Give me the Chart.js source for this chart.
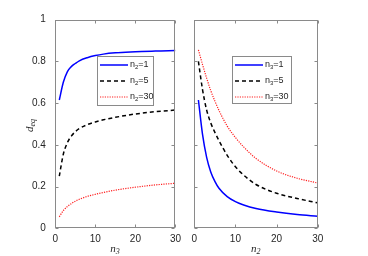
<!DOCTYPE html>
<html>
<head>
<meta charset="utf-8">
<script src="https://cdn.jsdelivr.net/npm/chart.js@4/dist/chart.umd.min.js"></script>
<style>
  html, body { margin: 0; padding: 0; background: #fff; }
  #wrap { position: relative; width: 368px; height: 256px; overflow: hidden; }
  canvas { position: absolute; top: 0; }
</style>
</head>
<body>
<div id="wrap">
  <canvas id="leftChart" width="186" height="256" style="left:0"></canvas>
  <canvas id="rightChart" width="182" height="256" style="left:186px"></canvas>
</div>
<script>
// sample positions along x (n3 on the left panel, n2 on the right panel)
const xVals = [1, 2, 3, 4, 5, 6, 8, 10, 12, 15, 20, 25, 30];

// left panel: d_eq versus n3
const leftN2_1  = [0.615, 0.700, 0.750, 0.775, 0.790, 0.803, 0.818, 0.828, 0.835, 0.841, 0.846, 0.850, 0.852];
const leftN2_5  = [0.250, 0.355, 0.410, 0.442, 0.463, 0.478, 0.497, 0.510, 0.520, 0.532, 0.548, 0.559, 0.567];
const leftN2_30 = [0.055, 0.085, 0.104, 0.118, 0.130, 0.139, 0.153, 0.163, 0.172, 0.183, 0.197, 0.208, 0.216];

// right panel: d_eq versus n2
const rightN3_1  = [0.615, 0.450, 0.340, 0.270, 0.225, 0.192, 0.152, 0.128, 0.112, 0.095, 0.078, 0.066, 0.058];
const rightN3_5  = [0.800, 0.665, 0.567, 0.505, 0.460, 0.420, 0.350, 0.295, 0.255, 0.210, 0.168, 0.143, 0.122];
const rightN3_30 = [0.855, 0.785, 0.720, 0.660, 0.610, 0.565, 0.490, 0.435, 0.390, 0.335, 0.275, 0.240, 0.217];

const xTicks = [0, 10, 20, 30];
const yTicks = [0, 0.2, 0.4, 0.6, 0.8, 1];

const leftLabels  = ['n_{2}=1', 'n_{2}=5', 'n_{2}=30'];
const rightLabels = ['n_{3}=1', 'n_{3}=5', 'n_{3}=30'];

const styles = [
    { borderColor: '#0000ff', borderWidth: 1.5, borderDash: [] },
    { borderColor: '#000000', borderWidth: 1.5, borderDash: [4, 3] },
    { borderColor: '#ff2020', borderWidth: 1.2, borderDash: [1.2, 1.2] }
];

const axisColor = '#8a8a8a';
const textColor = '#262626';

function makeSets(series, labels) {
    return series.map((ys, i) => ({
        label: labels[i],
        data: xVals.map((x, j) => ({ x: x, y: ys[j] })),
        borderColor: styles[i].borderColor,
        borderWidth: styles[i].borderWidth,
        borderDash: styles[i].borderDash,
        pointRadius: 0,
        fill: false,
        cubicInterpolationMode: 'monotone'
    }));
}

// draws "n_{2}=1" style text with a subscript
function subText(ctx, str, x, y, size, family, italic) {
    const m = str.match(/^([^_]*)_\{([^}]*)\}(.*)$/) || [null, str, '', ''];
    const it = italic ? 'italic ' : '';
    ctx.font = it + size + 'px ' + family;
    ctx.fillText(m[1], x, y);
    x += ctx.measureText(m[1]).width;
    if (m[2]) {
        ctx.font = it + Math.round(size * 0.72) + 'px ' + family;
        ctx.fillText(m[2], x, y + size * 0.3);
        x += ctx.measureText(m[2]).width;
    }
    ctx.font = size + 'px ' + family;
    ctx.fillText(m[3], x, y);
    return x + ctx.measureText(m[3]).width;
}

const matlabBox = {
    id: 'matlabBox',
    afterDraw(chart, args, opts) {
        const { ctx, chartArea: a, scales } = chart;
        ctx.save();
        ctx.strokeStyle = axisColor;
        ctx.lineWidth = 1;
        const L = Math.round(a.left) + 0.5, R = Math.round(a.right) - 0.5;
        const T = Math.round(a.top) + 0.5, B = Math.round(a.bottom) - 0.5;
        ctx.strokeRect(L, T, R - L, B - T);

        // inward tick marks on all four sides
        ctx.beginPath();
        scales.x.ticks.forEach(t => {
            const px = Math.round(scales.x.getPixelForValue(t.value)) + 0.5;
            ctx.moveTo(px, B); ctx.lineTo(px, B - 3);
            ctx.moveTo(px, T); ctx.lineTo(px, T + 3);
        });
        scales.y.ticks.forEach(t => {
            const py = Math.round(scales.y.getPixelForValue(t.value)) + 0.5;
            ctx.moveTo(L, py); ctx.lineTo(L + 3, py);
            ctx.moveTo(R, py); ctx.lineTo(R - 3, py);
        });
        ctx.stroke();

        // axis titles
        ctx.fillStyle = textColor;
        ctx.textBaseline = 'middle';
        ctx.textAlign = 'left';
        const serif = '"Liberation Serif", "DejaVu Serif", serif';
        const cx = (a.left + a.right) / 2 - 5;
        subText(ctx, opts.xTitle, cx, 249, 11, serif, true);
        if (opts.yTitle) {
            ctx.save();
            ctx.translate(30, 124);
            ctx.rotate(-Math.PI / 2);
            subText(ctx, opts.yTitle, -8, 0, 11, serif, true);
            ctx.restore();
        }

        // legend box
        const lg = opts.legend;
        ctx.fillStyle = '#ffffff';
        ctx.fillRect(lg.x, lg.y, lg.w, lg.h);
        ctx.strokeStyle = axisColor;
        ctx.strokeRect(lg.x + 0.5, lg.y + 0.5, lg.w - 1, lg.h - 1);
        chart.data.datasets.forEach((ds, i) => {
            const ry = lg.y + 9 + i * 16;
            ctx.save();
            ctx.strokeStyle = ds.borderColor;
            ctx.lineWidth = ds.borderWidth;
            ctx.setLineDash(ds.borderDash);
            ctx.beginPath();
            ctx.moveTo(lg.x + 3, ry);
            ctx.lineTo(lg.x + 31, ry);
            ctx.stroke();
            ctx.restore();
            ctx.fillStyle = textColor;
            subText(ctx, ds.label, lg.x + 33, ry, 9, '"Liberation Sans", Arial, sans-serif', false);
        });
        ctx.restore();
    }
};

function makeOptions(showYLabels, pad, box) {
    return {
        responsive: false,
        animation: false,
        devicePixelRatio: 1,
        layout: { padding: pad },
        plugins: {
            legend: { display: false },
            tooltip: { enabled: false },
            matlabBox: box
        },
        scales: {
            x: {
                type: 'linear',
                min: 0, max: 30,
                afterBuildTicks: s => { s.ticks = xTicks.map(v => ({ value: v })); },
                afterFit: s => { s.height = 27.7; },
                grid: { display: false, drawTicks: false },
                border: { display: false },
                ticks: {
                    padding: 5,
                    maxRotation: 0,
                    color: textColor,
                    font: { family: '"Liberation Sans", Arial, sans-serif', size: 10 }
                }
            },
            y: {
                min: 0, max: 1,
                afterBuildTicks: s => { s.ticks = yTicks.map(v => ({ value: v })); },
                afterFit: s => { s.width = showYLabels ? 55.3 : 0; },
                grid: { display: false, drawTicks: false },
                border: { display: false },
                ticks: {
                    display: showYLabels,
                    padding: 9.5,
                    color: textColor,
                    font: { family: '"Liberation Sans", Arial, sans-serif', size: 10 },
                    callback: v => String(Math.round(v * 10) / 10)
                }
            }
        }
    };
}

new Chart(document.getElementById('leftChart'), {
    type: 'line',
    data: { datasets: makeSets([leftN2_1, leftN2_5, leftN2_30], leftLabels) },
    options: makeOptions(true, { top: 19.7, right: 8.3, left: 0, bottom: 0 },
        { xTitle: 'n_{3}', yTitle: 'd_{eq}', legend: { x: 97, y: 56, w: 57, h: 50 } }),
    plugins: [matlabBox]
});

new Chart(document.getElementById('rightChart'), {
    type: 'line',
    data: { datasets: makeSets([rightN3_1, rightN3_5, rightN3_30], rightLabels) },
    options: makeOptions(false, { top: 19.7, right: 50.3, left: 8.3, bottom: 0 },
        { xTitle: 'n_{2}', yTitle: null, legend: { x: 46, y: 56, w: 60, h: 48 } }),
    plugins: [matlabBox]
});
</script>
</body>
</html>
